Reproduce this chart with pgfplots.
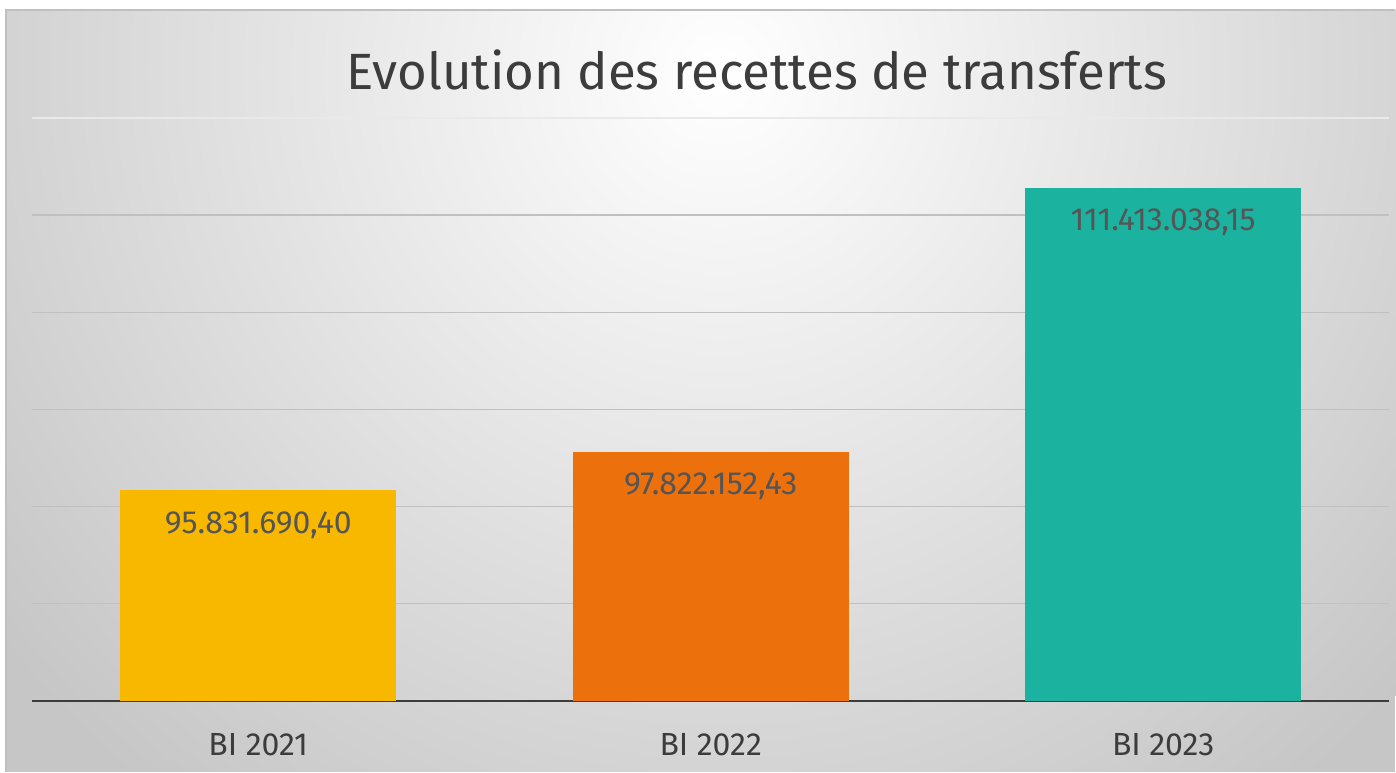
\documentclass[border=0pt]{standalone}
\usepackage{pgfplots}
\pgfplotsset{compat=1.18}
\usepackage{fontspec}
\setmainfont{Fira Sans}

\definecolor{cYellow}{HTML}{F9B800}
\definecolor{cOrange}{HTML}{EC700C}
\definecolor{cTeal}{HTML}{1BB39F}
\definecolor{txt}{HTML}{3C3C3C}
\definecolor{lbl}{HTML}{555555}
\definecolor{gridc}{HTML}{C0C0C0}
\definecolor{bgout}{HTML}{C6C6C6}

\begin{document}
\begin{tikzpicture}
  % page and chart background (1px = 0.5pt)
  \fill[white] (0,0) rectangle (698pt,386pt);
  \begin{scope}
    \clip (3pt,0) rectangle (698pt,381pt);
    \fill[bgout] (3pt,0) rectangle (698pt,381pt);
    \shade[inner color=white, outer color=bgout] (360pt,350pt) circle (460pt);
  \end{scope}
  \draw[gridc, line width=0.6pt] (3pt,0) -- (3pt,381pt) -- (698pt,381pt);

  \begin{axis}[
    at={(16pt,35.5pt)}, anchor=south west,
    scale only axis,
    width=679pt, height=291.5pt,
    xmin=-0.5, xmax=2.5,
    ymin=85000000, ymax=115000000,
    scaled y ticks=false,
    axis x line*=bottom,
    axis y line*=left,
    y axis line style={draw=none},
    x axis line style={draw=txt, line width=1.1pt},
    xtick={0,1,2},
    xticklabels={BI 2021,BI 2022,BI 2023},
    xticklabel style={font=\fontsize{16}{18}\selectfont, text=txt, yshift=-13pt},
    major tick length=0pt,
    ytick={90000000,95000000,100000000,105000000,110000000},
    yticklabels={},
    extra y ticks={115000000},
    extra y tick labels={},
    extra y tick style={grid style={draw=gridc!35, line width=0.6pt}},
    ymajorgrids,
    grid style={draw=gridc, line width=0.7pt},
    clip=false,
    ybar, bar width=138pt,
    bar shift=0pt,
    nodes near coords,
    point meta=explicit symbolic,
    every node near coord/.append style={anchor=north, yshift=-7pt,
      font=\fontsize{16}{18}\selectfont, text=lbl},
  ]
  \addplot[fill=cYellow, draw=none] table[meta=label] {
    x y label
    0 95831690.40 95.831.690,40
  };
  \addplot[fill=cOrange, draw=none] table[meta=label] {
    x y label
    1 97822152.43 97.822.152,43
  };
  \addplot[fill=cTeal, draw=none] table[meta=label] {
    x y label
    2 111413038.15 111.413.038,15
  };
  \end{axis}

  \node[anchor=base, text=txt, font=\fontsize{25.5}{30}\selectfont] at (378.5pt,341pt) {Evolution des recettes de transferts};
\end{tikzpicture}
\end{document}
